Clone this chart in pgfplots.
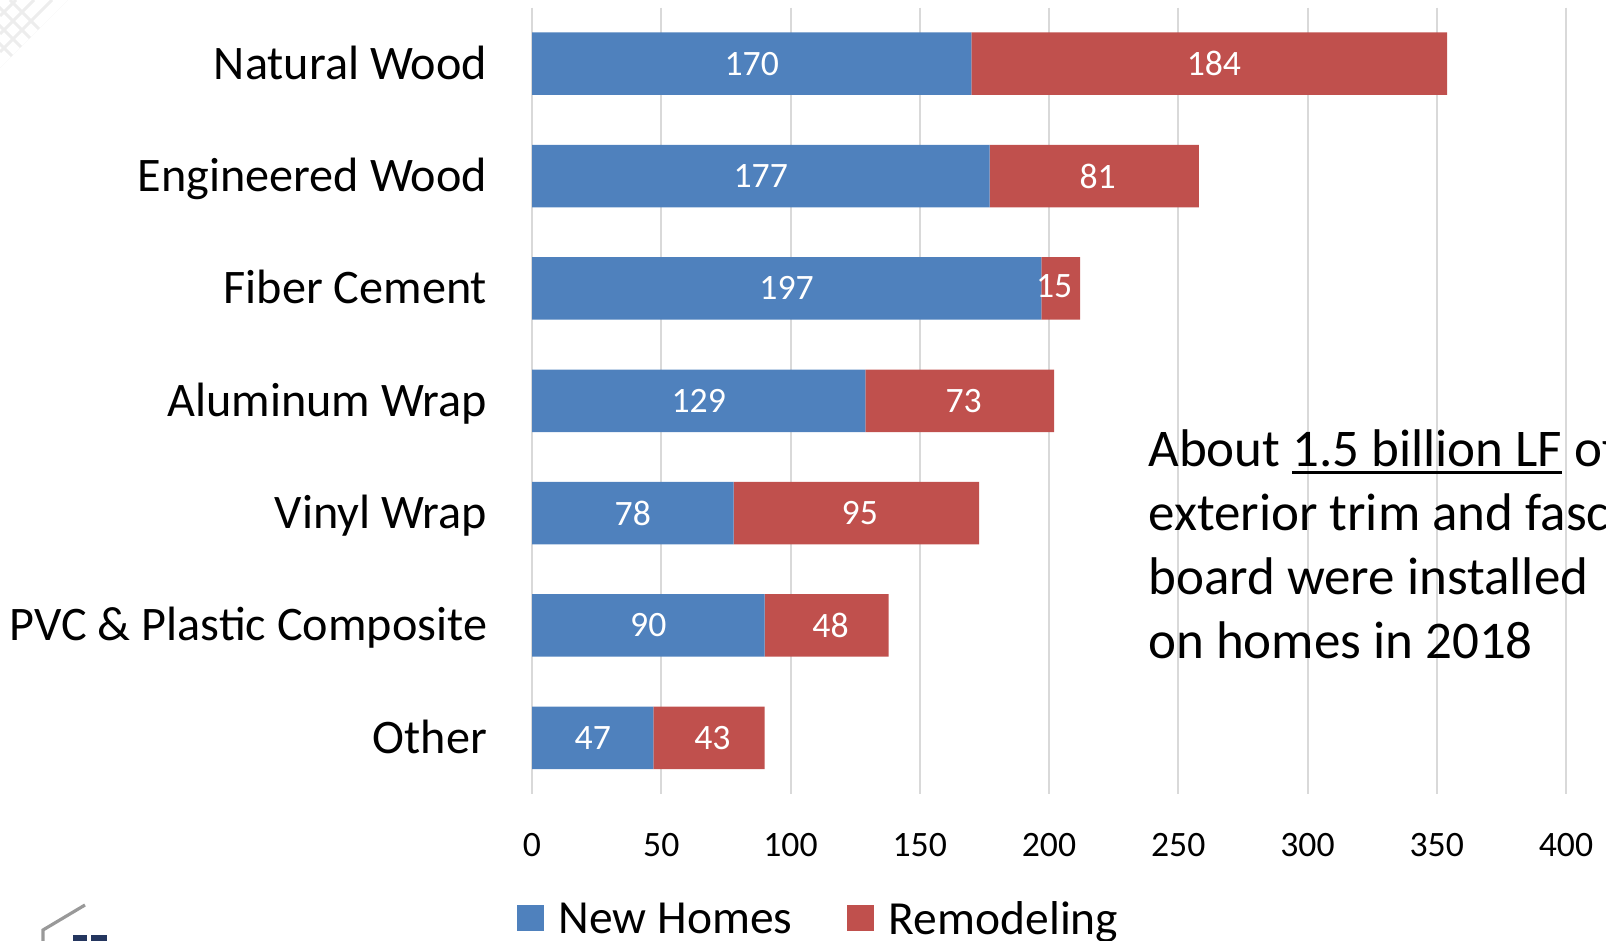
\documentclass[border=0pt]{standalone}
\usepackage{fontspec}
\setmainfont{Carlito}
\usepackage{pgfplots}
\pgfplotsset{compat=1.18}

% underline drawn as a rule, thicker than \underline
\newcommand\uline[1]{\setbox0\hbox{#1}\rlap{\rule[-3.7pt]{\wd0}{1.35pt}}\box0\relax}

\begin{document}
\begin{tikzpicture}
\definecolor{newBlue}{HTML}{4F81BD}
\definecolor{remRed}{HTML}{C0504D}
\definecolor{gridGray}{HTML}{D9D9D9}
\definecolor{logoNavy}{HTML}{24365F}

% faint watermark grid, top left corner
\begin{scope}
	\clip (0pt,470.5pt) -- (34pt,470.5pt) -- (0pt,436.5pt) -- cycle;
	\foreach \d in {8,17,26,35} {
		\draw[black!7,line width=1.5pt] (0pt,470.5pt-\d pt) -- (\d pt,470.5pt);
		\draw[black!7,line width=1.5pt] (\d pt-30pt,470.5pt) -- (\d pt+10pt,430.5pt);
	}
\end{scope}

% logo fragment, bottom left corner
\draw[black!40,line width=1.6pt] (21.5pt,0pt) -- (21.5pt,5.5pt) -- (42.5pt,18pt);
\fill[logoNavy] (36.5pt,0pt) rectangle (43.5pt,3pt);
\fill[logoNavy] (45.5pt,0pt) rectangle (53.5pt,3pt);

\begin{axis}[
	at={(266pt,73.5pt)}, anchor=south west,
	scale only axis, width=517pt, height=393.25pt,
	xbar stacked, bar width=31.25pt,
	xmin=0, xmax=400, ymin=-0.5, ymax=6.5, y dir=reverse,
	xtick={0,50,...,400}, ytick={0,1,...,6},
	yticklabels={Natural Wood,Engineered Wood,Fiber Cement,Aluminum Wrap,Vinyl Wrap,PVC \& Plastic Composite,Other},
	axis line style={draw=none},
	major tick length=0pt,
	xmajorgrids,
	major grid style={draw=gridGray,line width=1pt},
	/pgf/number format/assume math mode=true,
	xticklabel style={font=\fontsize{17.85}{20}\selectfont,inner sep=0pt,anchor=north,yshift=-19.35pt},
	yticklabel style={font=\fontsize{24.1}{28}\selectfont,inner sep=0pt,anchor=base east,xshift=-22.25pt,yshift=-7.75pt},
	legend style={
		at={(axis description cs:0,0)}, anchor=north west,
		xshift=-7.5pt, yshift=-53.7pt,
		draw=none, fill=none, inner sep=0pt, outer sep=0pt,
		font=\fontsize{23.75}{28}\selectfont,
		legend columns=-1,
		nodes={inner sep=0pt},
		/tikz/every odd column/.append style={column sep=7.5pt},
		/tikz/every even column/.append style={column sep=27.5pt},
	},
	legend image code/.code={\fill[#1] (0pt,-6pt) rectangle (13.35pt,7.35pt);},
]
\addplot[fill=newBlue,draw=none] coordinates {
	(170,0) (177,1) (197,2) (129,3) (78,4) (90,5) (47,6)};
\addlegendentry{New Homes}
\addplot[fill=remRed,draw=none] coordinates {
	(184,0) (81,1) (15,2) (73,3) (95,4) (48,5) (43,6)};
\addlegendentry{Remodeling}
\end{axis}

% second axis on the same box: value labels centred in each segment
\begin{axis}[
	at={(266pt,73.5pt)}, anchor=south west,
	scale only axis, width=517pt, height=393.25pt,
	xmin=0, xmax=400, ymin=-0.5, ymax=6.5, y dir=reverse,
	hide axis, clip=false,
]
\addplot[only marks,mark=none,point meta=explicit symbolic,nodes near coords,
	every node near coord/.append style={anchor=center,inner sep=0pt,text=white,
		font=\fontsize{17.85}{20}\selectfont}]
	coordinates {
		(85,0) [170] (88.5,1) [177] (98.5,2) [197] (64.5,3) [129]
		(39,4) [78] (45,5) [90] (23.5,6) [47]
		(263.8,0) [184] (218.8,1) [81] (202,1.98) [15] (167,3) [73]
		(126.8,4) [95] (115.5,5) [48] (69.8,6) [43]
	};
\end{axis}

% note on the right, cut by the page edge as in the source
\begin{scope}[every node/.style={anchor=base west,inner sep=0pt,font=\fontsize{26.5}{32}\selectfont}]
	\node at (574pt,237.15pt) {About \uline{1.5 billion LF} of};
	\node at (574pt,205.25pt) {exterior trim and fascia};
	\node at (574pt,173.35pt) {board were installed};
	\node at (574pt,141.45pt) {on homes in 2018};
\end{scope}

\pgfresetboundingbox
\useasboundingbox (0pt,0pt) rectangle (803pt,470.5pt);
\end{tikzpicture}
\end{document}
